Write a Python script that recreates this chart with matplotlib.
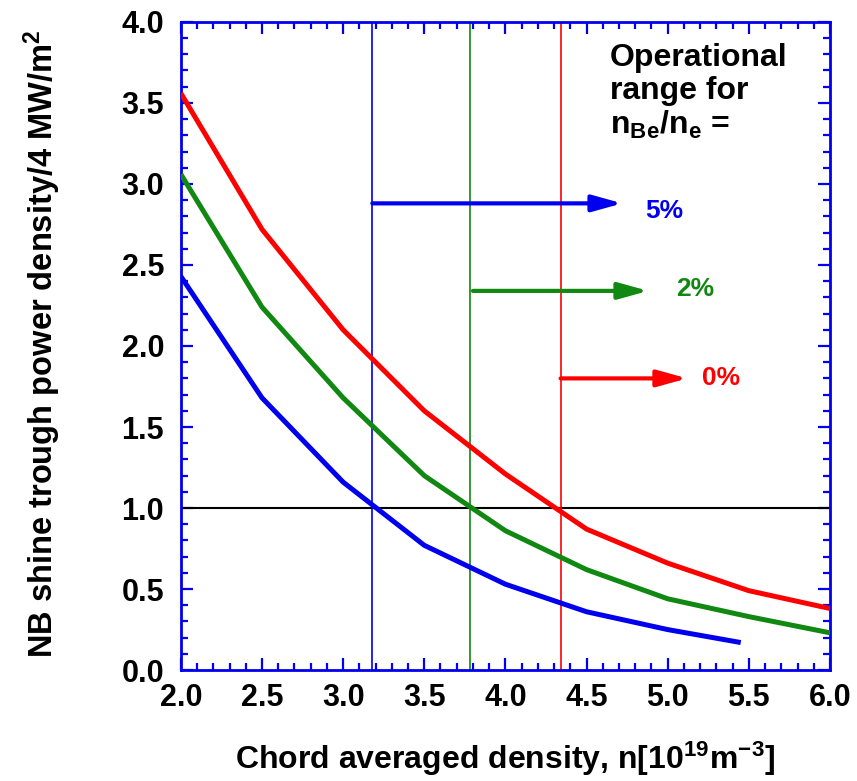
import matplotlib
matplotlib.use("Agg")
import matplotlib.pyplot as plt
from matplotlib.ticker import MultipleLocator, FormatStrFormatter

plt.rcParams['font.family'] = ['Liberation Sans', 'DejaVu Sans']
plt.rcParams['font.weight'] = 'bold'
plt.rcParams['mathtext.fontset'] = 'custom'
plt.rcParams['mathtext.rm'] = 'Liberation Sans'
plt.rcParams['mathtext.bf'] = 'Liberation Sans:bold'
plt.rcParams['mathtext.it'] = 'Liberation Sans:italic'
plt.rcParams['mathtext.default'] = 'regular'

# Shine-through power density vs chord averaged density for three Be fractions
dens_0 = [2.0, 2.5, 3.0, 3.5, 4.0, 4.5, 5.0, 5.5, 6.0]
shine_0 = [3.56, 2.72, 2.10, 1.60, 1.21, 0.87, 0.66, 0.49, 0.38]

dens_2 = [2.0, 2.5, 3.0, 3.5, 4.0, 4.5, 5.0, 5.5, 6.0]
shine_2 = [3.06, 2.24, 1.68, 1.20, 0.86, 0.62, 0.44, 0.33, 0.23]

dens_5 = [2.0, 2.5, 3.0, 3.5, 4.0, 4.5, 5.0, 5.45]
shine_5 = [2.43, 1.68, 1.16, 0.77, 0.53, 0.36, 0.25, 0.17]

# Density limits where shine-through reaches the 1.0 level
limit_density = [3.18, 3.78, 4.34]
limit_labels = ['5%', '2%', '0%']
arrow_start = [3.18, 3.80, 4.34]
arrow_y = [2.88, 2.34, 1.80]
arrow_end = [4.72, 4.88, 5.12]
label_x = [4.86, 5.05, 5.21]
label_y = [2.83, 2.35, 1.80]
series_colors = ['#0000ee', '#118811', '#ff0000']

fig = plt.figure(figsize=(8.57, 7.81), dpi=100)
ax = fig.add_axes([0.211, 0.142, 0.7575, 0.830])

ax.plot(dens_0, shine_0, color='#ff0000', lw=3.6, solid_capstyle='butt', zorder=3)
ax.plot(dens_2, shine_2, color='#118811', lw=3.6, solid_capstyle='butt', zorder=3)
ax.plot(dens_5, shine_5, color='#0000ee', lw=3.6, solid_capstyle='butt', zorder=3)

ax.axhline(1.0, color='black', lw=1.5, zorder=2)

for xd, xs, lab, ya, xe, lx, ly, c in zip(limit_density, arrow_start, limit_labels,
                                           arrow_y, arrow_end, label_x, label_y,
                                           series_colors):
    ax.axvline(xd, color=c, lw=1.2, zorder=2)
    ax.annotate('', xy=(xe, ya), xytext=(xs, ya),
                arrowprops=dict(arrowstyle='-|>,head_length=0.9,head_width=0.25',
                                color=c, lw=3.0, mutation_scale=20,
                                shrinkA=0, shrinkB=0),
                zorder=4)
    ax.text(lx, ly, lab, color=c, fontsize=19, fontweight='bold',
            ha='left', va='center')

ax.text(4.644, 3.87,
        'Operational\nrange for\n$\\mathbf{n}_{\\mathrm{Be}}\\mathrm{/}\\mathbf{n}_{\\mathrm{e}}$ =',
        fontsize=23, fontweight='bold', ha='left', va='top', linespacing=1.13)

ax.set_xlim(2.0, 6.0)
ax.set_ylim(0.0, 4.0)
ax.xaxis.set_major_locator(MultipleLocator(0.5))
ax.xaxis.set_minor_locator(MultipleLocator(0.1))
ax.yaxis.set_major_locator(MultipleLocator(0.5))
ax.yaxis.set_minor_locator(MultipleLocator(0.1))
ax.xaxis.set_major_formatter(FormatStrFormatter('%.1f'))
ax.yaxis.set_major_formatter(FormatStrFormatter('%.1f'))

for s in ax.spines.values():
    s.set_color('#0000ee')
    s.set_linewidth(2.0)
ax.tick_params(which='both', direction='in', top=True, right=True, color='#0000ee')
ax.tick_params(which='major', length=8.5, width=1.6, labelsize=22)
ax.tick_params(axis='x', which='major', pad=9)
ax.tick_params(axis='y', which='major', pad=12)
ax.tick_params(which='minor', length=4.8, width=1.6)
for lbl in ax.get_xticklabels() + ax.get_yticklabels():
    lbl.set_fontweight('bold')

ax.set_xlabel('Chord averaged density, n[10$^{19}$m$^{-3}$]', fontsize=23,
              fontweight='bold')
ax.xaxis.set_label_coords(0.5, -0.153)
ax.xaxis.label.set_verticalalignment('baseline')

ax.set_ylabel('NB shine trough power density/4 MW/m$^2$', fontsize=23.5,
              fontweight='bold')
ax.yaxis.set_label_coords(-0.197, 0.503)
ax.yaxis.label.set_verticalalignment('baseline')

fig.savefig('out.png', dpi=100)
